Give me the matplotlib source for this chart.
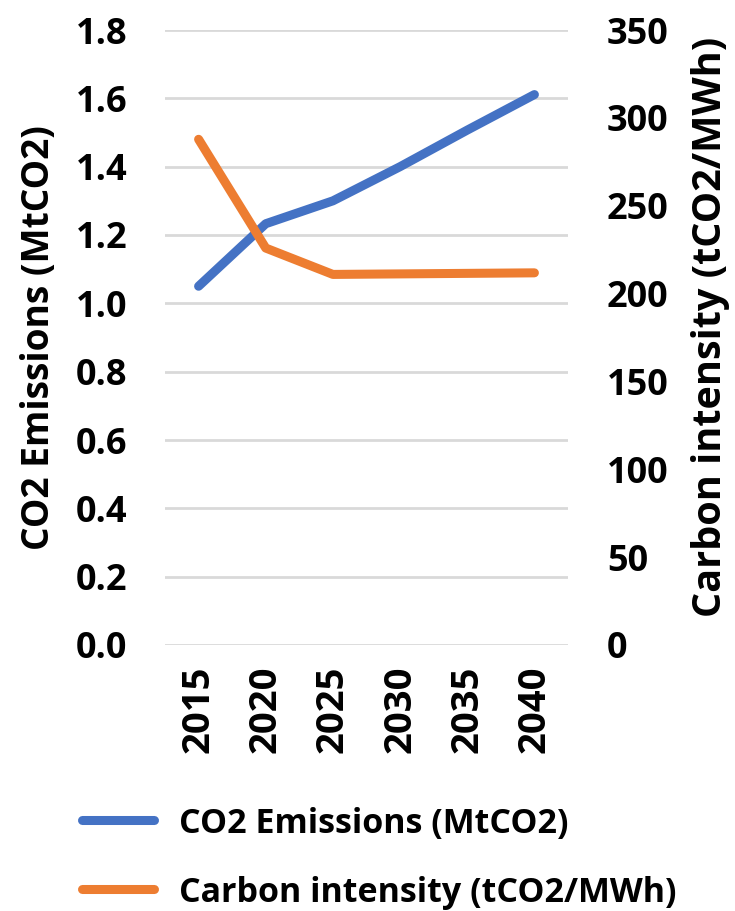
import matplotlib
matplotlib.use("Agg")
import matplotlib.pyplot as plt
from matplotlib.lines import Line2D

years = [2015, 2020, 2025, 2030, 2035, 2040]
co2_emissions = [1.05, 1.233, 1.30, 1.40, 1.507, 1.611]
carbon_intensity = [287.8, 225.9, 210.9, 211.2, 211.5, 211.8]

left_ticks = [0.0, 0.2, 0.4, 0.6, 0.8, 1.0, 1.2, 1.4, 1.6, 1.8]
right_ticks = [0, 50, 100, 150, 200, 250, 300, 350]

series_names = ["CO2 Emissions (MtCO2)", "Carbon intensity (tCO2/MWh)"]

blue = "#4472C4"
orange = "#ED7D31"
grid_c = "#D9D9D9"

plt.rcParams["font.family"] = ["Open Sans", "DejaVu Sans"]
plt.rcParams["font.weight"] = "bold"

W, H = 735, 911
fig = plt.figure(figsize=(W / 100, H / 100), dpi=100)
ax = fig.add_axes([165 / W, 1 - 645 / H, (568 - 165) / W, (645 - 30) / H])
ax2 = ax.twinx()

x = list(range(len(years)))
ax.set_xlim(-0.5, len(years) - 0.5)
ax.set_ylim(0, 1.8)
ax2.set_ylim(0, 350)

for v in left_ticks:
    ax.axhline(v, color=grid_c, lw=2, zorder=0)

ax.plot(x, co2_emissions, color=blue, lw=6.5, solid_capstyle="round",
        solid_joinstyle="round", zorder=3)
ax2.plot(x, carbon_intensity, color=orange, lw=6.5, solid_capstyle="round",
         solid_joinstyle="round", zorder=3)

for a in (ax, ax2):
    for s in a.spines.values():
        s.set_visible(False)
    a.tick_params(length=0, labelsize=26)

ax.set_yticks(left_ticks)
ax.set_yticklabels([f"{v:.1f}" for v in left_ticks], fontweight="bold")
ax2.set_yticks(right_ticks)
ax2.set_yticklabels([str(v) for v in right_ticks], fontweight="bold")
ax.tick_params(axis="y", pad=27)
ax2.tick_params(axis="y", pad=28)

ax.set_xticks(x)
ax.set_xticklabels([str(y) for y in years], rotation=90, fontweight="bold",
                   fontsize=27.5)
ax.tick_params(axis="x", pad=15)

# axis titles
fig.text(39 / W, 1 - 338 / H, series_names[0], rotation=90, ha="center",
         va="center", fontsize=26.7, fontweight="bold")
fig.text(711 / W, 1 - 327 / H, series_names[1], rotation=90, ha="center",
         va="center", fontsize=28.5, fontweight="bold")

# legend below the plot
for name, color, yc in zip(series_names, [blue, orange], [820, 889]):
    fig.add_artist(Line2D([82 / W, 154 / W], [1 - yc / H, 1 - yc / H],
                          transform=fig.transFigure, color=color, lw=6.5,
                          solid_capstyle="round"))
    fig.text(179 / W, 1 - yc / H, name, ha="left", va="center_baseline",
             fontsize=24.5, fontweight="bold")

fig.savefig("out.png", dpi=100)
